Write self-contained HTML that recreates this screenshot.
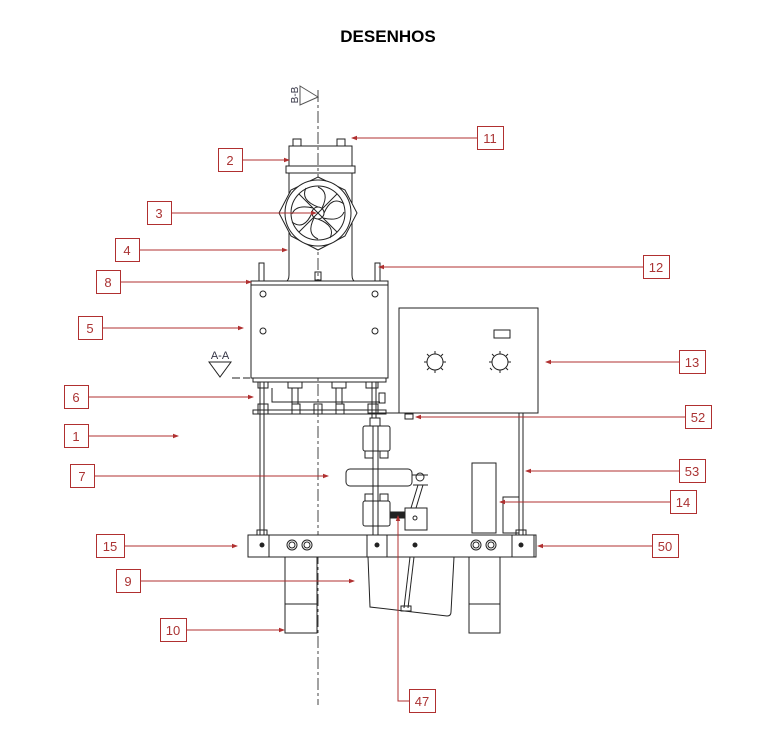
<!DOCTYPE html>
<html><head><meta charset="utf-8"><style>
html,body{margin:0;padding:0;background:#fff;}
svg{display:block;}
</style></head><body>
<svg width="768" height="730" viewBox="0 0 768 730" xmlns="http://www.w3.org/2000/svg">
<defs>
<marker id="ar" markerWidth="6" markerHeight="6" refX="5" refY="3" orient="auto" markerUnits="userSpaceOnUse"><path d="M0,0.8 L6,3 L0,5.2z" fill="#b03030"/></marker>
</defs>
<rect width="768" height="730" fill="#fff"/>
<text x="388" y="42" text-anchor="middle" font-family="Liberation Sans, sans-serif" font-weight="bold" font-size="17">DESENHOS</text>

<!-- centerline -->
<line x1="318" y1="90" x2="318" y2="705" stroke="#444" stroke-width="1" stroke-dasharray="12,3,3,3"/>
<!-- B-B -->
<path d="M300,86 L318,97 L300,105 Z" fill="none" stroke="#555" stroke-width="1"/>
<text x="298" y="95" transform="rotate(-90 298 95)" text-anchor="middle" font-family="Liberation Sans, sans-serif" font-size="10" fill="#334">B-B</text>

<g fill="none" stroke="#222" stroke-width="1">
<!-- top cylinder -->
<rect x="289" y="146" width="63" height="20"/>
<rect x="286" y="166" width="69" height="7"/>
<path d="M289,173 L289,275 Q289,281 285,282 M352,173 L352,275 Q352,281 356,282"/>
<rect x="293" y="139" width="8" height="7"/><rect x="337" y="139" width="8" height="7"/>
<!-- fan -->
<path d="M318,177 L345,190 L357,213 L345,236 L318,250 L291,236 L279,213 L291,190 Z" fill="#fff"/>
<circle cx="318" cy="213" r="33" fill="#fff"/>
<circle cx="318" cy="213" r="27"/>
<circle cx="318" cy="213" r="6"/>
<g stroke-width="1">
<path d="M318,207 Q300,200 306,188 M324,213 Q332,195 344,204 M318,219 Q336,226 330,238 M312,213 Q304,231 292,222 M322,208 Q330,192 318,187 M323,218 Q340,222 344,212 M314,218 Q306,234 318,239 M313,208 Q296,204 292,214"/>
<line x1="299" y1="194" x2="337" y2="232"/><line x1="337" y1="194" x2="299" y2="232"/>
</g>
<rect x="315" y="272" width="6" height="8"/>
<!-- pins 12 -->
<rect x="259" y="263" width="5" height="18"/><rect x="375" y="263" width="5" height="18"/>
<!-- box 5 -->
<rect x="251" y="281" width="137" height="97" fill="#fff"/>
<line x1="251" y1="285" x2="388" y2="285"/>
</g>
<g fill="none" stroke="#222" stroke-width="1">
<circle cx="263" cy="294" r="3"/><circle cx="375" cy="294" r="3"/><circle cx="263" cy="331" r="3"/><circle cx="375" cy="331" r="3"/>
<!-- A-A -->
<path d="M209,362 L231,362 L220,377 Z"/>
<line x1="232" y1="378" x2="250" y2="378" stroke-dasharray="8,3"/>
<!-- under box fittings -->
<rect x="253" y="378" width="133" height="4"/>
<rect x="258" y="382" width="10" height="6"/><rect x="288" y="382" width="14" height="6"/><rect x="332" y="382" width="14" height="6"/><rect x="366" y="382" width="12" height="6"/>
<line x1="292" y1="388" x2="292" y2="404"/><line x1="298" y1="388" x2="298" y2="404"/>
<line x1="336" y1="388" x2="336" y2="404"/><line x1="342" y1="388" x2="342" y2="404"/>
<path d="M272,388 L272,402 L380,402"/>
<rect x="253" y="410" width="133" height="4"/>
<rect x="258" y="404" width="10" height="10"/><rect x="292" y="404" width="8" height="10"/><rect x="314" y="404" width="8" height="10"/><rect x="336" y="404" width="8" height="10"/><rect x="368" y="404" width="10" height="10"/>
<rect x="379" y="393" width="6" height="10"/>
<!-- rods -->
<line x1="260" y1="382" x2="260" y2="537"/><line x1="264" y1="382" x2="264" y2="537"/>
<line x1="372" y1="382" x2="372" y2="418"/><line x1="376" y1="382" x2="376" y2="418"/>
<rect x="257" y="530" width="10" height="6"/>
<!-- control box 13 -->
<rect x="399" y="308" width="139" height="105" fill="#fff"/>
<rect x="494" y="330" width="16" height="8"/>
<circle cx="435" cy="362" r="8"/><circle cx="500" cy="362" r="8"/>
<path d="M435,351v3M435,370v3M424,362h3M443,362h3M427,354l2,2M441,368l2,2M443,354l-2,2M427,370l2,-2M500,351v3M500,370v3M489,362h3M508,362h3M492,354l2,2M506,368l2,2M508,354l-2,2M492,370l-2,-2"/>
<line x1="368" y1="413" x2="417" y2="413"/>
<rect x="405" y="414" width="8" height="5"/>
<!-- rod 53 -->
<line x1="519" y1="413" x2="519" y2="537"/><line x1="523" y1="413" x2="523" y2="537"/>
<rect x="516" y="530" width="10" height="6"/>
<!-- mechanism 7 -->
<rect x="370" y="418" width="10" height="8"/>
<rect x="363" y="426" width="27" height="25" rx="2"/>
<rect x="365" y="451" width="8" height="7"/><rect x="380" y="451" width="8" height="7"/>
<rect x="346" y="469" width="66" height="17" rx="4" fill="#fff"/>
<rect x="365" y="494" width="8" height="7"/><rect x="380" y="494" width="8" height="7"/>
<rect x="363" y="501" width="27" height="25" rx="2"/>
<line x1="373" y1="426" x2="373" y2="535"/><line x1="378" y1="426" x2="378" y2="535"/>
<path d="M412,475 L428,475 M413,485 L428,485 M418,485 L411,508 M423,485 L416,508"/>
<circle cx="420" cy="477" r="4"/>
<rect x="405" y="508" width="22" height="22"/>
<circle cx="415" cy="518" r="2"/>
<rect x="390" y="512" width="15" height="6" fill="#222"/>
<!-- block 14 -->
<rect x="472" y="463" width="24" height="70"/>
<rect x="503" y="497" width="16" height="36"/>
<!-- bar 15 -->
<rect x="248" y="535" width="288" height="22" fill="#fff"/>
<rect x="248" y="535" width="21" height="22"/><rect x="367" y="535" width="20" height="22"/><rect x="512" y="535" width="22" height="22"/>
<circle cx="262" cy="545" r="2" fill="#222"/><circle cx="377" cy="545" r="2" fill="#222"/><circle cx="521" cy="545" r="2" fill="#222"/><circle cx="415" cy="545" r="2" fill="#222"/>
<circle cx="292" cy="545" r="5"/><circle cx="307" cy="545" r="5"/><circle cx="476" cy="545" r="5"/><circle cx="491" cy="545" r="5"/>
<circle cx="292" cy="545" r="3"/><circle cx="307" cy="545" r="3"/><circle cx="476" cy="545" r="3"/><circle cx="491" cy="545" r="3"/>
<!-- legs -->
<rect x="285" y="557" width="32" height="76"/><line x1="285" y1="604" x2="317" y2="604"/>
<rect x="469" y="557" width="31" height="76"/><line x1="469" y1="604" x2="500" y2="604"/>
<!-- box 9 -->
<path d="M368,557 L454,557 L451,612 Q451,616 447,616 L370,607 Z" fill="#fff"/>
<line x1="410" y1="557" x2="404" y2="608"/><line x1="414" y1="557" x2="408" y2="608"/>
<rect x="401" y="606" width="10" height="5"/>
</g>

<!-- red leaders -->
<g stroke="#b03030" stroke-width="1" fill="none">
<line x1="477" y1="138" x2="352" y2="138" marker-end="url(#ar)"/>
<line x1="242" y1="160" x2="289" y2="160" marker-end="url(#ar)"/>
<line x1="171" y1="213" x2="316" y2="213" marker-end="url(#ar)"/>
<line x1="139" y1="250" x2="287" y2="250" marker-end="url(#ar)"/>
<line x1="120" y1="282" x2="251" y2="282" marker-end="url(#ar)"/>
<line x1="102" y1="328" x2="243" y2="328" marker-end="url(#ar)"/>
<line x1="88" y1="397" x2="253" y2="397" marker-end="url(#ar)"/>
<line x1="88" y1="436" x2="178" y2="436" marker-end="url(#ar)"/>
<line x1="94" y1="476" x2="328" y2="476" marker-end="url(#ar)"/>
<line x1="124" y1="546" x2="237" y2="546" marker-end="url(#ar)"/>
<line x1="140" y1="581" x2="354" y2="581" marker-end="url(#ar)"/>
<line x1="186" y1="630" x2="284" y2="630" marker-end="url(#ar)"/>
<line x1="643" y1="267" x2="379" y2="267" marker-end="url(#ar)"/>
<line x1="679" y1="362" x2="546" y2="362" marker-end="url(#ar)"/>
<line x1="685" y1="417" x2="416" y2="417" marker-end="url(#ar)"/>
<line x1="679" y1="471" x2="526" y2="471" marker-end="url(#ar)"/>
<line x1="670" y1="502" x2="500" y2="502" marker-end="url(#ar)"/>
<line x1="652" y1="546" x2="538" y2="546" marker-end="url(#ar)"/>
<polyline points="409,701 398,701 398,516" marker-end="url(#ar)"/>
</g>

<!-- label boxes -->
<g font-family="Liberation Sans, sans-serif" font-size="13" fill="#a33" text-anchor="middle">
<g fill="#fff" stroke="#b03030" stroke-width="1">
<rect x="477.5" y="126.5" width="26" height="23"/>
<rect x="218.5" y="148.5" width="24" height="23"/>
<rect x="147.5" y="201.5" width="24" height="23"/>
<rect x="115.5" y="238.5" width="24" height="23"/>
<rect x="96.5" y="270.5" width="24" height="23"/>
<rect x="78.5" y="316.5" width="24" height="23"/>
<rect x="64.5" y="385.5" width="24" height="23"/>
<rect x="64.5" y="424.5" width="24" height="23"/>
<rect x="70.5" y="464.5" width="24" height="23"/>
<rect x="96.5" y="534.5" width="28" height="23"/>
<rect x="116.5" y="569.5" width="24" height="23"/>
<rect x="160.5" y="618.5" width="26" height="23"/>
<rect x="643.5" y="255.5" width="26" height="23"/>
<rect x="679.5" y="350.5" width="26" height="23"/>
<rect x="685.5" y="405.5" width="26" height="23"/>
<rect x="679.5" y="459.5" width="26" height="23"/>
<rect x="670.5" y="490.5" width="26" height="23"/>
<rect x="652.5" y="534.5" width="26" height="23"/>
<rect x="409.5" y="689.5" width="26" height="23"/>
</g>
<text x="490" y="143">11</text><text x="230" y="165">2</text><text x="159" y="218">3</text>
<text x="127" y="255">4</text><text x="108" y="287">8</text><text x="90" y="333">5</text>
<text x="76" y="402">6</text><text x="76" y="441">1</text><text x="82" y="481">7</text>
<text x="110" y="551">15</text><text x="128" y="586">9</text><text x="173" y="635">10</text>
<text x="656" y="272">12</text><text x="692" y="367">13</text><text x="698" y="422">52</text>
<text x="692" y="476">53</text><text x="683" y="507">14</text><text x="665" y="551">50</text>
<text x="422" y="706">47</text>
</g>
<text x="220" y="359" text-anchor="middle" font-family="Liberation Sans, sans-serif" font-size="11" fill="#334">A-A</text>
</svg>
</body></html>
